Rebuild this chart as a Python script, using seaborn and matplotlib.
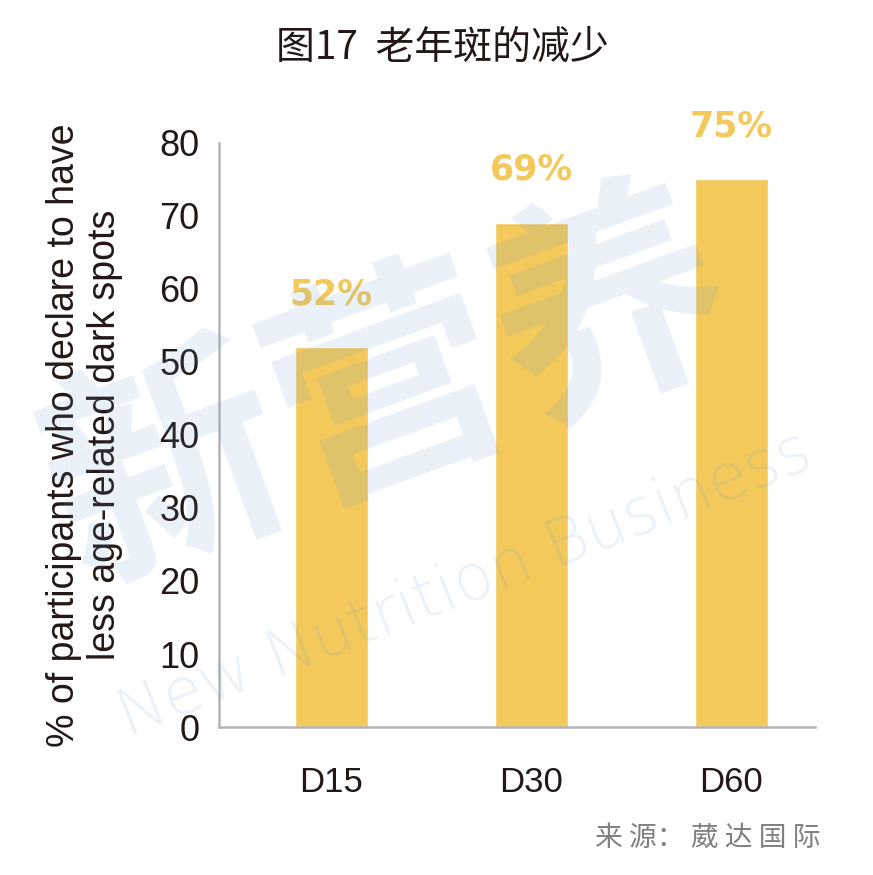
import pandas as pd
import matplotlib.pyplot as plt
import seaborn as sns

# data
days = ['D15', 'D30', 'D60']
pct = [52, 69, 75]
pct_labels = ['52%', '69%', '75%']
y_ticks = [0, 10, 20, 30, 40, 50, 60, 70, 80]

df = pd.DataFrame({'day': days, 'pct': pct})

sns.set_theme(style='white')
plt.rcParams['font.family'] = ['Liberation Sans', 'Noto Sans CJK SC', 'DejaVu Sans']

fig = plt.figure(figsize=(8.73, 8.75), dpi=100)
ax = fig.add_axes([0.251, 0.169, 0.683, 0.668])

sns.barplot(data=df, x='day', y='pct', color='#F3C95C', saturation=1, width=0.365, ax=ax, zorder=2)

for i, (v, lab) in enumerate(zip(pct, pct_labels)):
    ax.annotate(lab, (i, v), xytext=(0, 26), textcoords='offset points', ha='center', va='bottom',
                fontsize=25, fontweight='bold', color='#F3C95C', family=['DejaVu Sans'])

ax.set_ylim(0, 80)
ax.set_xlim(-0.56, 2.42)
ax.set_yticks(y_ticks)
ax.tick_params(axis='y', direction='in', length=8, width=1.5, color='#b5b5b5', labelsize=26,
               labelcolor='#231815', pad=14)
ax.tick_params(axis='x', length=0, labelsize=25, labelcolor='#231815', pad=28)
ax.set_xlabel('')
ax.set_ylabel('% of participants who declare to have\nless age-related dark spots', fontsize=27,
              color='#231815', labelpad=26, linespacing=1.2)
for s in ['top', 'right']:
    ax.spines[s].set_visible(False)
for s in ['left', 'bottom']:
    ax.spines[s].set_color('#b5b5b5')
    ax.spines[s].set_linewidth(1.8)

fig.text(0.507, 0.945, '图17  老年斑的减少', ha='center', va='center', fontsize=28, color='#231815',
         family=['Noto Sans CJK SC', 'DejaVu Sans'])
fig.text(0.94, 0.042, '来 源： 葳 达 国 际', ha='right', va='center', fontsize=20, color='#808080',
         family=['Noto Sans CJK SC', 'DejaVu Sans'])

# faint watermark
fig.text(0.447, 0.55, '新营养', ha='center', va='center', fontsize=170, color='#5b93c8', alpha=0.13,
         rotation=20, family=['Noto Sans CJK SC'], fontweight='bold', zorder=5)
fig.text(0.533, 0.331, 'New Nutrition Business', ha='center', va='center', fontsize=46, color='#5b93c8',
         alpha=0.13, rotation=21.5, family=['DejaVu Sans'], fontweight='light', zorder=5)

fig.savefig('out.png', dpi=100)
